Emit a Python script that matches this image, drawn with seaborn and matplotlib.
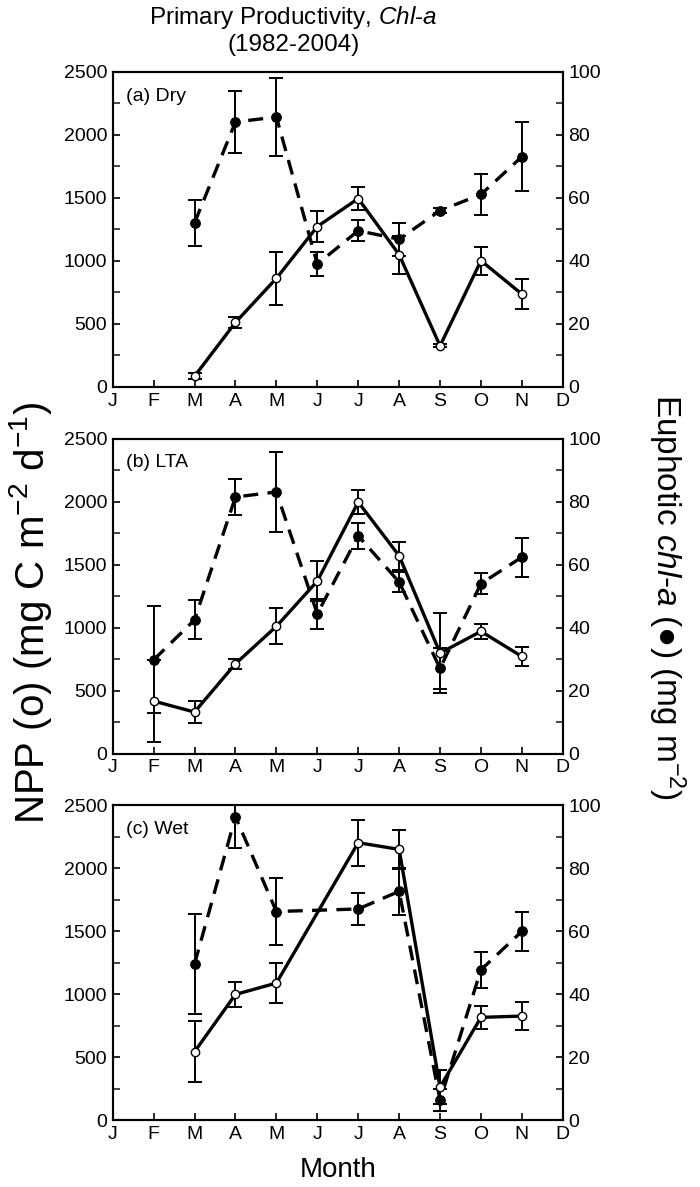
import matplotlib
matplotlib.use("Agg")
import matplotlib.pyplot as plt
from matplotlib.ticker import MultipleLocator
import seaborn as sns

# month axis
month_labels = ["J", "F", "M", "A", "M", "J", "J", "A", "S", "O", "N", "D"]

# (a) Dry
dry_months = [3, 4, 5, 6, 7, 8, 9, 10, 11]
npp_dry = [85, 512, 862, 1273, 1495, 1050, 326, 1002, 737]
npp_dry_err = [22, 45, 212, 120, 90, 150, 12, 110, 120]
chl_dry = [52.1, 84.1, 85.7, 39.0, 49.6, 46.9, 56.0, 61.1, 73.1]
chl_dry_err = [7.3, 9.7, 12.4, 3.7, 3.4, 5.3, 0.8, 6.6, 10.9]

# (b) LTA
lta_months = [2, 3, 4, 5, 6, 7, 8, 9, 10, 11]
npp_lta = [418, 331, 714, 1011, 1370, 1997, 1571, 799, 971, 772]
npp_lta_err = [325, 90, 40, 143, 160, 95, 110, 320, 60, 73]
chl_lta = [29.8, 42.5, 81.5, 83.1, 44.4, 69.2, 54.5, 27.1, 54.0, 62.4]
chl_lta_err = [17.0, 6.2, 5.8, 12.8, 4.8, 4.1, 3.2, 6.5, 3.4, 6.2]

# (c) Wet (no June)
wet_months = [3, 4, 5, 7, 8, 9, 10, 11]
npp_wet = [542, 997, 1087, 2201, 2148, 262, 815, 825]
npp_wet_err = [242, 102, 160, 181, 155, 135, 90, 113]
chl_wet = [49.5, 96.3, 66.2, 67.0, 72.6, 6.3, 47.7, 59.9]
chl_wet_err = [15.9, 10.0, 10.7, 5.2, 7.5, 3.4, 5.7, 6.1]

panels = [
    ("(a) Dry", dry_months, npp_dry, npp_dry_err, chl_dry, chl_dry_err),
    ("(b) LTA", lta_months, npp_lta, npp_lta_err, chl_lta, chl_lta_err),
    ("(c) Wet", wet_months, npp_wet, npp_wet_err, chl_wet, chl_wet_err),
]

sns.set_theme(style="ticks")
plt.rcParams["font.family"] = ["Liberation Sans", "DejaVu Sans"]
plt.rcParams["mathtext.fontset"] = "custom"
plt.rcParams["mathtext.rm"] = "Liberation Sans"
plt.rcParams["mathtext.it"] = "Liberation Sans:italic"
plt.rcParams["text.color"] = "black"

fig = plt.figure(figsize=(7, 11.87), dpi=100)

# axes boxes (left, bottom, width, height) in figure fractions
boxes = [
    [0.161, 0.674, 0.643, 0.2654],
    [0.161, 0.365, 0.643, 0.2654],
    [0.161, 0.0564, 0.643, 0.2654],
]


def style_axis(ax):
    for sp in ax.spines.values():
        sp.set_linewidth(1.5)
        sp.set_color("black")
    ax.tick_params(direction="in", length=5, width=1.2, labelsize=14,
                   colors="black", pad=4)
    ax.tick_params(which="minor", direction="in", length=5, width=1.2)


for i, (label, months, npp, npp_err, chl, chl_err) in enumerate(panels):
    ax = fig.add_axes(boxes[i])
    ax2 = ax.twinx()

    # chlorophyll (filled, dashed) on right axis
    ax2.errorbar(months, chl, yerr=chl_err, fmt="none", ecolor="black",
                 elinewidth=1.4, capsize=5, capthick=1.4)
    sns.lineplot(x=months, y=chl, ax=ax2, color="black", sort=False,
                 errorbar=None, linewidth=2.4, linestyle=(0, (4.5, 2.8)),
                 marker="o", markersize=7, markerfacecolor="black",
                 markeredgecolor="black")

    # NPP (open, solid) on left axis
    ax.errorbar(months, npp, yerr=npp_err, fmt="none", ecolor="black",
                elinewidth=1.4, capsize=5, capthick=1.4, zorder=3)
    sns.lineplot(x=months, y=npp, ax=ax, color="black", sort=False,
                 errorbar=None, linewidth=2.4, marker="o", markersize=6,
                 markerfacecolor="white", markeredgecolor="black",
                 markeredgewidth=1.0, zorder=4)
    ax.set_zorder(ax2.get_zorder() + 1)
    ax.patch.set_visible(False)

    ax.set_xlim(1, 12)
    ax.set_ylim(0, 2500)
    ax2.set_ylim(0, 100)
    ax.set_xticks(range(1, 13))
    ax.set_xticklabels(month_labels)
    ax.yaxis.set_major_locator(MultipleLocator(500))
    ax.yaxis.set_minor_locator(MultipleLocator(250))
    ax2.yaxis.set_major_locator(MultipleLocator(20))
    ax2.yaxis.set_minor_locator(MultipleLocator(10))
    ax.set_xlabel("")
    ax.set_ylabel("")
    ax2.set_ylabel("")
    style_axis(ax)
    style_axis(ax2)
    ax.text(0.03, 0.95, label, transform=ax.transAxes, fontsize=14,
            ha="left", va="top")

fig.text(0.419, 0.997,
         "Primary Productivity, $\\mathit{Chl}$-$\\mathit{a}$\n(1982-2004)",
         ha="center", va="top", fontsize=17.5, linespacing=1.2)
fig.text(0.043, 0.484,
         "NPP (o) (mg C m$^{\\mathregular{-2}}$ d$^{\\mathregular{-1}}$)",
         rotation=90, ha="center", va="center", fontsize=29)
fig.text(0.953, 0.497,
         "Euphotic $\\mathit{chl}$-$\\mathit{a}$ (\u25cf) (mg m$^{\\mathregular{-2}}$)",
         rotation=270, ha="center", va="center", fontsize=24)
fig.text(0.483, 0.0143, "Month", ha="center", va="center", fontsize=20)

fig.savefig("out.png", dpi=100)
